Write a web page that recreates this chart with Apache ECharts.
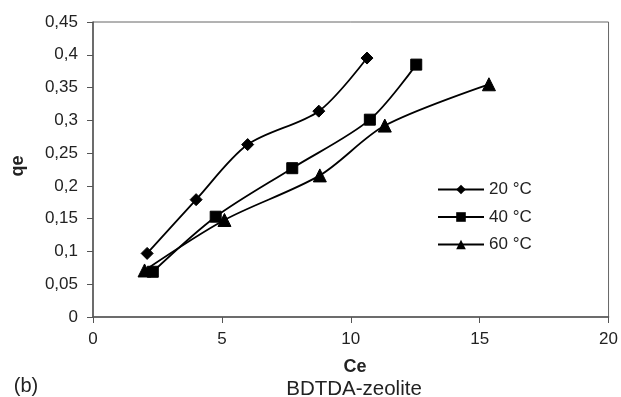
<!DOCTYPE html>
<html>
<head>
<meta charset="utf-8">
<script src="https://cdn.jsdelivr.net/npm/echarts@6/dist/echarts.min.js"></script>
<style>html,body{margin:0;padding:0;background:#fff;}#c{width:621px;height:397px;}</style>
</head>
<body>
<div id="c"></div>
<script>
const seriesNames = ['20 °C', '40 °C', '60 °C'];
const ce20 = [2.1, 4.0, 6.0, 8.76, 10.63];
const qe20 = [0.097, 0.179, 0.263, 0.314, 0.395];
const ce40 = [2.32, 4.76, 7.73, 10.74, 12.54];
const qe40 = [0.069, 0.153, 0.227, 0.301, 0.385];
const ce60 = [2.0, 5.1, 8.8, 11.32, 15.36];
const qe60 = [0.071, 0.148, 0.216, 0.292, 0.355];
const symbols = ['diamond', 'rect', 'triangle'];
const symbolSizes = [12, 11, 13];

const FONT = '"Liberation Sans", Arial, sans-serif';
const chart = echarts.init(document.getElementById('c'));
const pairs = (xs, ys) => xs.map((x, i) => [x, ys[i]]);
const data = [pairs(ce20, qe20), pairs(ce40, qe40), pairs(ce60, qe60)];

chart.setOption({
  animation: false,
  backgroundColor: '#fff',
  textStyle: { fontFamily: FONT },
  grid: { left: 93, right: 9, top: 22, bottom: 80, show: true, borderColor: '#666', borderWidth: 1 },
  legend: {
    orient: 'vertical', left: 432, top: 176, itemWidth: 46, itemHeight: 12, itemGap: 10.5,
    textStyle: { fontSize: 17, color: '#222', fontFamily: FONT },
    data: seriesNames
  },
  xAxis: {
    type: 'value', min: 0, max: 20, interval: 5,
    axisLine: { show: true, lineStyle: { color: '#555', width: 1.5 } },
    axisTick: { show: true, length: 6, lineStyle: { color: '#555' } },
    axisLabel: { fontSize: 17, color: '#222', margin: 14, fontFamily: FONT },
    splitLine: { show: false }
  },
  yAxis: {
    type: 'value', min: 0, max: 0.45, interval: 0.05,
    axisLine: { show: true, lineStyle: { color: '#555', width: 1.5 } },
    axisTick: { show: true, length: 6, lineStyle: { color: '#555' } },
    axisLabel: { fontSize: 17, color: '#222', margin: 15, fontFamily: FONT,
      formatter: v => String(Math.round(v * 100) / 100).replace('.', ',') },
    splitLine: { show: false }
  },
  graphic: [
    { type: 'text', x: 18, y: 166, rotation: Math.PI / 2,
      style: { text: 'qe', fontSize: 18, fontWeight: 'bold', fill: '#222', fontFamily: FONT, align: 'center', verticalAlign: 'middle' } },
    { type: 'text', x: 355, y: 367,
      style: { text: 'Ce', fontSize: 18, fontWeight: 'bold', fill: '#222', fontFamily: FONT, align: 'center', verticalAlign: 'middle' } },
    { type: 'text', x: 26, y: 386,
      style: { text: '(b)', fontSize: 20, fill: '#222', fontFamily: FONT, align: 'center', verticalAlign: 'middle' } },
    { type: 'text', x: 354, y: 389,
      style: { text: 'BDTDA-zeolite', fontSize: 20.5, fill: '#222', fontFamily: FONT, align: 'center', verticalAlign: 'middle' } }
  ],
  series: seriesNames.map((n, i) => ({
    name: n, type: 'line', data: data[i], smooth: 0.3,
    symbol: symbols[i], symbolSize: symbolSizes[i],
    lineStyle: { color: '#000', width: 1.8 },
    itemStyle: { color: '#000', borderColor: '#000' }
  }))
});
</script>
</body>
</html>
